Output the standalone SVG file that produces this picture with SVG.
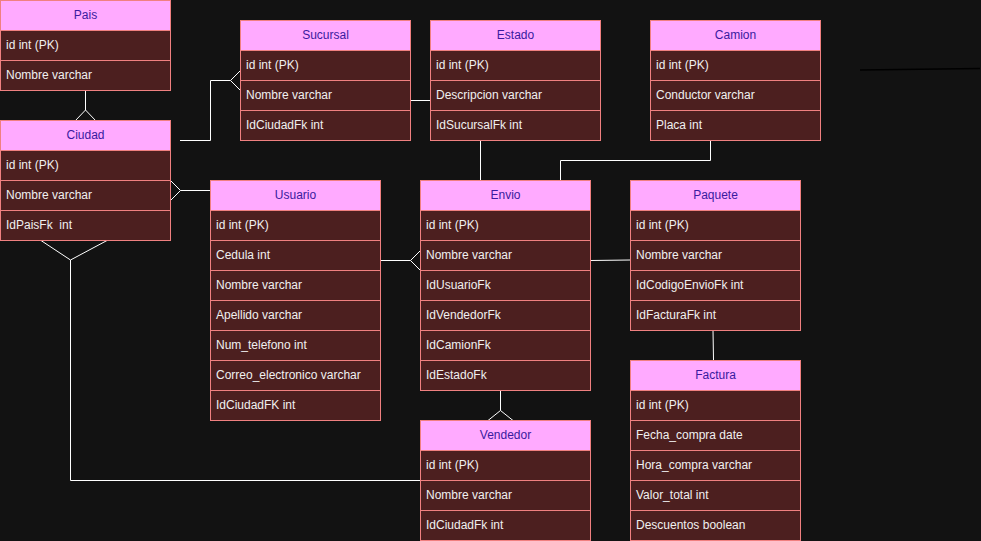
<svg xmlns="http://www.w3.org/2000/svg" width="981" height="541" viewBox="0 0 981 541">
<style>
.hd{fill:#ffaaff;stroke:#f08080;stroke-width:1}
.rw{fill:#4c1f1f;stroke:#f08080;stroke-width:1}
.ht{font-family:"Liberation Sans",Arial,sans-serif;font-size:12px;fill:#3a1aa0;text-anchor:middle;dominant-baseline:central}
.rt{font-family:"Liberation Sans",Arial,sans-serif;font-size:12px;fill:#f0f0f0;dominant-baseline:central}
.cn{fill:none;stroke:#ffffff;stroke-width:1}
</style>
<rect x="0" y="0" width="981" height="541" fill="#121212"/>
<g id="connectors">
<path class="cn" d="M85.5 90 V110 M75.5 120.5 L85.5 110 L95.5 120.5"/>
<path class="cn" d="M180 140.5 H210.5 V80.5 H230.5 M240.5 70.5 L230.5 80.5 L240.5 90.5"/>
<path class="cn" d="M210 190.5 H180.5 M170.5 180.5 L180.5 190.5 L170.5 200.5"/>
<path class="cn" d="M41 240.5 L70.5 260 L107 240.5 M70.5 260 V480.5 H420"/>
<path class="cn" d="M410 100.5 H430"/>
<path class="cn" d="M480.5 140 V180"/>
<path class="cn" d="M710.5 140 V160.5 H560.5 V180"/>
<path class="cn" d="M380 260.5 H410.5 M420.5 250.5 L410.5 260.5 L420.5 270.5"/>
<path class="cn" d="M590 260.5 L630 260"/>
<path class="cn" d="M713 330 L713.5 360"/>
<path class="cn" d="M500.5 390 V410.5 M488 420.5 L500.5 410.5 L513 420.5"/>
<path fill="none" stroke="#000000" stroke-width="1.5" d="M860 70 L980 68.5"/>
</g>
<g id="Pais">
<rect class="hd" x="0.5" y="0.5" width="170" height="30"/><text class="ht" x="85.5" y="14.5">Pais</text>
<rect class="rw" x="0.5" y="30.5" width="170" height="30"/><text class="rt" x="6" y="44.5">id int (PK)</text>
<rect class="rw" x="0.5" y="60.5" width="170" height="30"/><text class="rt" x="6" y="74.5">Nombre varchar</text>
</g>
<g id="Sucursal">
<rect class="hd" x="240.5" y="20.5" width="170" height="30"/><text class="ht" x="325.5" y="34.5">Sucursal</text>
<rect class="rw" x="240.5" y="50.5" width="170" height="30"/><text class="rt" x="246" y="64.5">id int (PK)</text>
<rect class="rw" x="240.5" y="80.5" width="170" height="30"/><text class="rt" x="246" y="94.5">Nombre varchar</text>
<rect class="rw" x="240.5" y="110.5" width="170" height="30"/><text class="rt" x="246" y="124.5">IdCiudadFk int</text>
</g>
<g id="Estado">
<rect class="hd" x="430.5" y="20.5" width="170" height="30"/><text class="ht" x="515.5" y="34.5">Estado</text>
<rect class="rw" x="430.5" y="50.5" width="170" height="30"/><text class="rt" x="436" y="64.5">id int (PK)</text>
<rect class="rw" x="430.5" y="80.5" width="170" height="30"/><text class="rt" x="436" y="94.5">Descripcion varchar</text>
<rect class="rw" x="430.5" y="110.5" width="170" height="30"/><text class="rt" x="436" y="124.5">IdSucursalFk int</text>
</g>
<g id="Camion">
<rect class="hd" x="650.5" y="20.5" width="170" height="30"/><text class="ht" x="735.5" y="34.5">Camion</text>
<rect class="rw" x="650.5" y="50.5" width="170" height="30"/><text class="rt" x="656" y="64.5">id int (PK)</text>
<rect class="rw" x="650.5" y="80.5" width="170" height="30"/><text class="rt" x="656" y="94.5">Conductor varchar</text>
<rect class="rw" x="650.5" y="110.5" width="170" height="30"/><text class="rt" x="656" y="124.5">Placa int</text>
</g>
<g id="Ciudad">
<rect class="hd" x="0.5" y="120.5" width="170" height="30"/><text class="ht" x="85.5" y="134.5">Ciudad</text>
<rect class="rw" x="0.5" y="150.5" width="170" height="30"/><text class="rt" x="6" y="164.5">id int (PK)</text>
<rect class="rw" x="0.5" y="180.5" width="170" height="30"/><text class="rt" x="6" y="194.5">Nombre varchar</text>
<rect class="rw" x="0.5" y="210.5" width="170" height="30"/><text class="rt" x="6" y="224.5" xml:space="preserve">IdPaisFk  int</text>
</g>
<g id="Usuario">
<rect class="hd" x="210.5" y="180.5" width="170" height="30"/><text class="ht" x="295.5" y="194.5">Usuario</text>
<rect class="rw" x="210.5" y="210.5" width="170" height="30"/><text class="rt" x="216" y="224.5">id int (PK)</text>
<rect class="rw" x="210.5" y="240.5" width="170" height="30"/><text class="rt" x="216" y="254.5">Cedula int</text>
<rect class="rw" x="210.5" y="270.5" width="170" height="30"/><text class="rt" x="216" y="284.5">Nombre varchar</text>
<rect class="rw" x="210.5" y="300.5" width="170" height="30"/><text class="rt" x="216" y="314.5">Apellido varchar</text>
<rect class="rw" x="210.5" y="330.5" width="170" height="30"/><text class="rt" x="216" y="344.5">Num_telefono int</text>
<rect class="rw" x="210.5" y="360.5" width="170" height="30"/><text class="rt" x="216" y="374.5">Correo_electronico varchar</text>
<rect class="rw" x="210.5" y="390.5" width="170" height="30"/><text class="rt" x="216" y="404.5">IdCiudadFK int</text>
</g>
<g id="Envio">
<rect class="hd" x="420.5" y="180.5" width="170" height="30"/><text class="ht" x="505.5" y="194.5">Envio</text>
<rect class="rw" x="420.5" y="210.5" width="170" height="30"/><text class="rt" x="426" y="224.5">id int (PK)</text>
<rect class="rw" x="420.5" y="240.5" width="170" height="30"/><text class="rt" x="426" y="254.5">Nombre varchar</text>
<rect class="rw" x="420.5" y="270.5" width="170" height="30"/><text class="rt" x="426" y="284.5">IdUsuarioFk</text>
<rect class="rw" x="420.5" y="300.5" width="170" height="30"/><text class="rt" x="426" y="314.5">IdVendedorFk</text>
<rect class="rw" x="420.5" y="330.5" width="170" height="30"/><text class="rt" x="426" y="344.5">IdCamionFk</text>
<rect class="rw" x="420.5" y="360.5" width="170" height="30"/><text class="rt" x="426" y="374.5">IdEstadoFk</text>
</g>
<g id="Paquete">
<rect class="hd" x="630.5" y="180.5" width="170" height="30"/><text class="ht" x="715.5" y="194.5">Paquete</text>
<rect class="rw" x="630.5" y="210.5" width="170" height="30"/><text class="rt" x="636" y="224.5">id int (PK)</text>
<rect class="rw" x="630.5" y="240.5" width="170" height="30"/><text class="rt" x="636" y="254.5">Nombre varchar</text>
<rect class="rw" x="630.5" y="270.5" width="170" height="30"/><text class="rt" x="636" y="284.5">IdCodigoEnvioFk int</text>
<rect class="rw" x="630.5" y="300.5" width="170" height="30"/><text class="rt" x="636" y="314.5">IdFacturaFk int</text>
</g>
<g id="Factura">
<rect class="hd" x="630.5" y="360.5" width="170" height="30"/><text class="ht" x="715.5" y="374.5">Factura</text>
<rect class="rw" x="630.5" y="390.5" width="170" height="30"/><text class="rt" x="636" y="404.5">id int (PK)</text>
<rect class="rw" x="630.5" y="420.5" width="170" height="30"/><text class="rt" x="636" y="434.5">Fecha_compra date</text>
<rect class="rw" x="630.5" y="450.5" width="170" height="30"/><text class="rt" x="636" y="464.5">Hora_compra varchar</text>
<rect class="rw" x="630.5" y="480.5" width="170" height="30"/><text class="rt" x="636" y="494.5">Valor_total int</text>
<rect class="rw" x="630.5" y="510.5" width="170" height="30"/><text class="rt" x="636" y="524.5">Descuentos boolean</text>
</g>
<g id="Vendedor">
<rect class="hd" x="420.5" y="420.5" width="170" height="30"/><text class="ht" x="505.5" y="434.5">Vendedor</text>
<rect class="rw" x="420.5" y="450.5" width="170" height="30"/><text class="rt" x="426" y="464.5">id int (PK)</text>
<rect class="rw" x="420.5" y="480.5" width="170" height="30"/><text class="rt" x="426" y="494.5">Nombre varchar</text>
<rect class="rw" x="420.5" y="510.5" width="170" height="30"/><text class="rt" x="426" y="524.5">IdCiudadFk int</text>
</g>
</svg>
